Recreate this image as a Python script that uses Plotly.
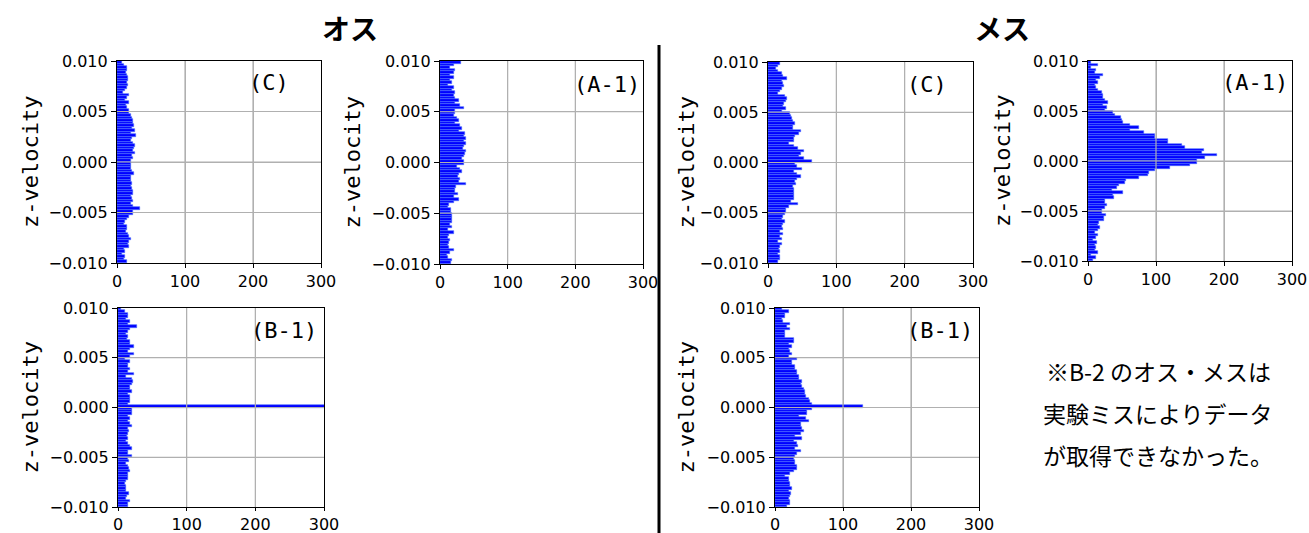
import numpy as np
import plotly.graph_objects as go

W, H = 1309, 533

# bin layout: 80 bins from 0.010 (top) to -0.010 (bottom)
n_bins = 80
bin_centers = np.linspace(0.01 - 0.000125, -0.01 + 0.000125, n_bins)

y_ticks = [0.010, 0.005, 0.000, -0.005, -0.010]
x_ticks = [0, 100, 200, 300]

# counts, listed from the top bin (0.010) to the bottom bin (-0.010)
male_C = [7, 10, 15, 14, 13, 15, 16, 16, 15, 16, 14, 12, 9, 17, 14, 12, 17, 13, 15, 17,
          18, 20, 22, 24, 23, 25, 22, 27, 20, 28, 22, 21, 24, 26, 25, 24, 27, 22, 24, 20,
          20, 21, 20, 22, 25, 20, 21, 21, 22, 20, 22, 24, 23, 21, 22, 24, 20, 23, 34, 24,
          24, 18, 15, 12, 10, 14, 15, 13, 16, 18, 20, 17, 16, 18, 10, 12, 8, 12, 10, 14]

male_A1 = [31, 20, 15, 22, 20, 15, 20, 15, 18, 12, 20, 17, 22, 20, 22, 28, 22, 30, 35, 22,
           22, 20, 25, 28, 22, 30, 32, 28, 37, 36, 38, 36, 38, 36, 34, 38, 37, 35, 32, 36,
           36, 25, 30, 32, 28, 27, 30, 28, 38, 24, 22, 22, 26, 20, 28, 20, 14, 12, 16, 16,
           18, 18, 17, 18, 15, 17, 12, 20, 14, 12, 15, 13, 12, 13, 20, 15, 10, 12, 18, 16]

male_B1 = [5, 10, 15, 15, 12, 18, 15, 27, 17, 15, 12, 15, 13, 17, 17, 24, 17, 15, 24, 18,
           10, 18, 15, 14, 18, 15, 24, 12, 20, 22, 20, 18, 17, 20, 14, 18, 18, 18, 15, 1000,
           20, 20, 20, 15, 17, 14, 18, 20, 14, 16, 15, 13, 14, 12, 14, 18, 20, 14, 15, 20,
           14, 16, 12, 15, 16, 17, 15, 14, 15, 11, 10, 12, 11, 12, 16, 13, 12, 17, 15, 14]

female_C = [18, 15, 12, 15, 20, 22, 28, 20, 22, 24, 20, 18, 15, 25, 28, 27, 24, 22, 27, 20,
            32, 34, 35, 37, 39, 36, 36, 48, 45, 40, 38, 38, 30, 38, 44, 52, 48, 46, 52, 65,
            40, 42, 50, 38, 42, 48, 42, 40, 41, 37, 38, 38, 38, 38, 38, 34, 44, 30, 27, 26,
            25, 22, 20, 25, 22, 20, 22, 18, 22, 18, 20, 15, 20, 18, 16, 17, 15, 18, 18, 15]

female_A1 = [5, 15, 5, 12, 10, 22, 17, 12, 15, 10, 12, 15, 20, 22, 22, 25, 30, 22, 28, 25,
             37, 40, 48, 50, 52, 62, 75, 62, 82, 99, 98, 118, 117, 138, 142, 170, 168, 190, 172, 160,
             160, 150, 120, 98, 90, 88, 75, 56, 55, 45, 42, 36, 52, 37, 38, 25, 25, 28, 25, 20,
             20, 27, 23, 23, 16, 15, 18, 15, 10, 15, 12, 8, 13, 10, 12, 10, 15, 5, 12, 8]

female_B1 = [10, 20, 15, 15, 10, 12, 22, 17, 22, 15, 15, 15, 28, 28, 20, 25, 20, 22, 25, 20,
             32, 25, 25, 30, 30, 32, 33, 35, 36, 40, 38, 40, 42, 44, 44, 45, 50, 52, 54, 130,
             55, 47, 47, 35, 45, 50, 38, 38, 40, 42, 38, 30, 40, 28, 32, 34, 30, 38, 32, 30,
             28, 30, 30, 32, 32, 28, 22, 15, 20, 20, 22, 22, 25, 20, 24, 22, 20, 22, 22, 17]

panels = [
    # (data, label, pixel box x0, x1, y0, y1, ytitle x)
    (male_C, "(C)", 117, 321, 61, 263, 30),
    (male_A1, "(A-1)", 440, 643, 61, 264, 352),
    (female_C, "(C)", 768, 973, 62, 263, 686),
    (female_A1, "(A-1)", 1088, 1292, 61, 261, 1002),
    (male_B1, "(B-1)", 118, 324, 308, 507, 30),
    (female_B1, "(B-1)", 775, 979, 308, 507, 686),
]
label_pos = [(269, 83), (607, 84), (927, 84), (1255, 83), (284, 330), (940, 330)]

fig = go.Figure()
layout = dict(width=W, height=H, margin=dict(l=0, r=0, t=0, b=0, autoexpand=False),
              paper_bgcolor="white", plot_bgcolor="white", showlegend=False,
              bargap=0, annotations=[], shapes=[])

tickfont = dict(family="DejaVu Sans", size=16, color="black")

for i, (data, label, x0, x1, y0, y1, ytx) in enumerate(panels):
    k = "" if i == 0 else str(i + 1)
    fig.add_trace(go.Bar(
        x=data, y=bin_centers, orientation="h",
        xaxis="x" + k, yaxis="y" + k, width=0.00025,
        marker=dict(color="#0000ff", line=dict(color="#4a6cff", width=0.6)),
    ))
    layout["xaxis" + k] = dict(
        domain=[x0 / W, x1 / W], anchor="y" + k, range=[0, 300],
        tickvals=x_ticks, ticktext=[str(v) for v in x_ticks],
        showgrid=True, gridcolor="#b0b0b0", gridwidth=1.2,
        showline=True, linecolor="black", linewidth=1.2, mirror=True,
        ticks="outside", ticklen=4 if i < 4 else 3, tickcolor="black", tickfont=tickfont,
        zeroline=False, fixedrange=True,
    )
    layout["yaxis" + k] = dict(
        domain=[1 - y1 / H, 1 - y0 / H], anchor="x" + k, range=[-0.010, 0.010],
        tickvals=y_ticks, ticktext=[("−" if v < 0 else "") + f"{abs(v):.3f}" for v in y_ticks],
        showgrid=True, gridcolor="#b0b0b0", gridwidth=1.2,
        showline=True, linecolor="black", linewidth=1.2, mirror=True,
        ticks="outside", ticklen=5, tickcolor="black", tickfont=tickfont,
        zeroline=False, fixedrange=True,
    )
    # grid lines drawn above bars (as in the reference)
    for v in y_ticks[1:-1]:
        layout["shapes"].append(dict(type="line", xref="x" + k + " domain", yref="y" + k,
                                     x0=0, x1=1, y0=v, y1=v, layer="above",
                                     line=dict(color="#b0b0b0", width=1.2)))
    for v in x_ticks[1:-1]:
        layout["shapes"].append(dict(type="line", xref="x" + k, yref="y" + k + " domain",
                                     x0=v, x1=v, y0=0, y1=1, layer="above",
                                     line=dict(color="#b0b0b0", width=1.2)))
    # y axis title
    layout["annotations"].append(dict(
        text="z-velocity", x=ytx / W, y=1 - ((y0 + y1) / 2) / H, xref="paper", yref="paper",
        textangle=-90, showarrow=False, xanchor="center", yanchor="middle",
        font=dict(family="DejaVu Sans Mono", size=22, color="black")))
    lx, ly = label_pos[i]
    layout["annotations"].append(dict(
        text=label, x=lx / W, y=1 - ly / H, xref="paper", yref="paper",
        showarrow=False, xanchor="center", yanchor="middle",
        font=dict(family="DejaVu Sans Mono", size=22, color="black")))

# section titles
for txt, cx in [("オス", 350), ("メス", 1002)]:
    layout["annotations"].append(dict(
        text="<b>" + txt + "</b>", x=cx / W, y=1 - 28 / H, xref="paper", yref="paper",
        showarrow=False, xanchor="center", yanchor="middle",
        font=dict(family="Noto Sans CJK JP", size=28, color="black")))

# note text
note_lines = ["※B-2 のオス・メスは", "実験ミスによりデータ", "が取得できなかった。"]
for j, (line, ly) in enumerate(zip(note_lines, [371, 413, 455])):
    layout["annotations"].append(dict(
        text=line, x=1158 / W, y=1 - ly / H, xref="paper", yref="paper",
        showarrow=False, xanchor="center", yanchor="middle",
        font=dict(family="Noto Sans CJK JP", size=23, color="black")))

# divider
layout["shapes"].append(dict(type="line", xref="paper", yref="paper",
                             x0=659 / W, x1=659 / W, y0=0, y1=1 - 45 / H,
                             line=dict(color="black", width=3)))

fig.update_layout(**layout)
fig.write_html("out.html", config={"displayModeBar": False},
               post_script="document.body.style.margin='0';document.body.style.overflow='hidden';")
